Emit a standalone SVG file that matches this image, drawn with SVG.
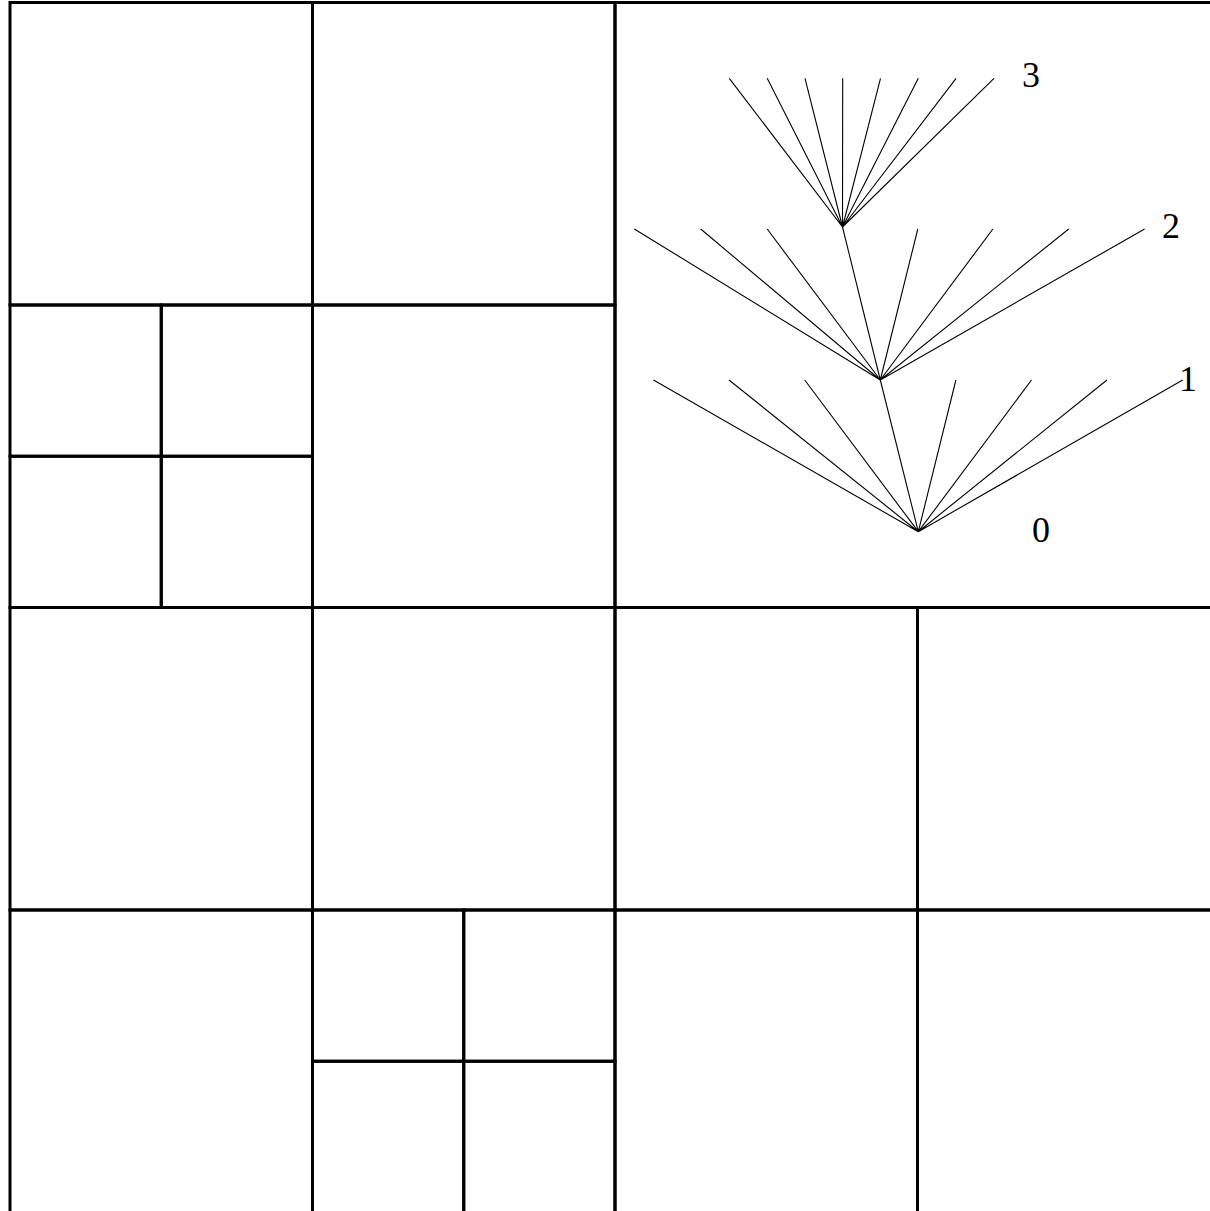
<svg xmlns="http://www.w3.org/2000/svg" width="1210" height="1211" viewBox="0 0 1210 1211">
<style>
.cell{fill:none;stroke:#000;stroke-width:3}
.edge{stroke:#000;stroke-width:1.1;fill:none}
.lbl{font-family:"Liberation Serif","Times New Roman",serif;font-size:36px;fill:#000}
</style>
<rect x="0" y="0" width="1210" height="1211" fill="#fff"/>
<g id="grid">
<g id="c00"><rect class="cell" x="10" y="2.5" width="302.5" height="302.5"/></g>
<g id="c01"><rect class="cell" x="312.5" y="2.5" width="302.5" height="302.5"/></g>
<g id="c02"><rect class="cell" x="615" y="2.5" width="605" height="605"/></g>
<g id="c10a"><rect class="cell" x="10" y="305" width="151.25" height="151.25"/></g>
<g id="c10b"><rect class="cell" x="161.25" y="305" width="151.25" height="151.25"/></g>
<g id="c10c"><rect class="cell" x="10" y="456.25" width="151.25" height="151.25"/></g>
<g id="c10d"><rect class="cell" x="161.25" y="456.25" width="151.25" height="151.25"/></g>
<g id="c11"><rect class="cell" x="312.5" y="305" width="302.5" height="302.5"/></g>
<g id="c20"><rect class="cell" x="10" y="607.5" width="302.5" height="302.5"/></g>
<g id="c21"><rect class="cell" x="312.5" y="607.5" width="302.5" height="302.5"/></g>
<g id="c22"><rect class="cell" x="615" y="607.5" width="302.5" height="302.5"/></g>
<g id="c23"><rect class="cell" x="917.5" y="607.5" width="302.5" height="302.5"/></g>
<g id="c30"><rect class="cell" x="10" y="910" width="302.5" height="302.5"/></g>
<g id="c31a"><rect class="cell" x="312.5" y="910" width="151.25" height="151.25"/></g>
<g id="c31b"><rect class="cell" x="463.75" y="910" width="151.25" height="151.25"/></g>
<g id="c31c"><rect class="cell" x="312.5" y="1061.25" width="151.25" height="151.25"/></g>
<g id="c31d"><rect class="cell" x="463.75" y="1061.25" width="151.25" height="151.25"/></g>
<g id="c32"><rect class="cell" x="615" y="910" width="302.5" height="302.5"/></g>
<g id="c33"><rect class="cell" x="917.5" y="910" width="302.5" height="302.5"/></g>
</g>
<g id="connectors">
<path class="edge" d="M918.3 531.7L653.5 380M918.3 531.7L729 380M918.3 531.7L804.7 380M918.3 531.7L880.3 380M918.3 531.7L955.9 380M918.3 531.7L1031.5 380M918.3 531.7L1107 380M918.3 531.7L1182.7 380"/>
<path class="edge" d="M880.3 380L634.3 229M880.3 380L700.7 229M880.3 380L767.2 229M880.3 380L842.5 227M880.3 380L917.8 229M880.3 380L992.9 229M880.3 380L1068.7 229M880.3 380L1144.6 229"/>
<path class="edge" d="M842.5 227L729.3 78.3M842.5 227L767.2 78.3M842.5 227L805 78.3M842.5 227L842.7 78.3M842.5 227L880.5 78.3M842.5 227L918.3 78.3M842.5 227L956.1 78.3M842.5 227L994 78.3"/>
</g>
<g id="labels">
<g id="l0"><text class="lbl" x="1032" y="541.5">0</text></g>
<g id="l1"><text class="lbl" x="1179" y="391">1</text></g>
<g id="l2"><text class="lbl" x="1162" y="238.3">2</text></g>
<g id="l3"><text class="lbl" x="1022" y="87.3">3</text></g>
</g>
</svg>
